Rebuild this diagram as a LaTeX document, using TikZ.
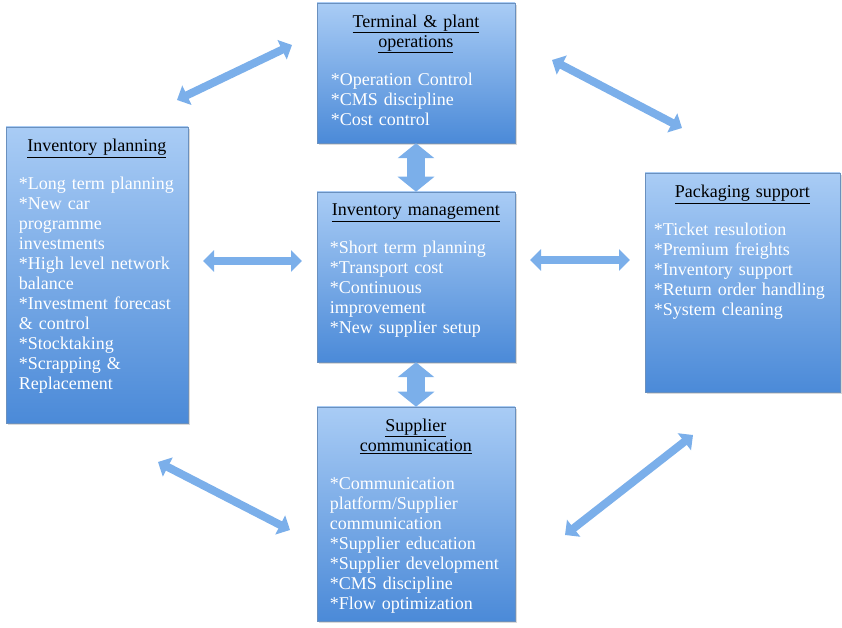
\documentclass[tikz,border=0pt]{standalone}
\usepackage{fontspec}
\setmainfont{Liberation Serif}
\usetikzlibrary{arrows.meta, positioning, shadows}
\definecolor{boxtop}{HTML}{A9CCF5}
\definecolor{boxbot}{HTML}{4B8AD8}
\definecolor{boxline}{HTML}{6A90BE}
\definecolor{linkblue}{HTML}{7BAFEA}
\hyphenpenalty=10000
\newcommand{\boxtitle}[1]{{\centering\leavevmode\color{black}#1\par}\vspace{18pt}}

\begin{document}
\begin{tikzpicture}[x=1pt, y=1pt, every node/.style={font=\fontsize{18}{20}\selectfont},
  area/.style={draw=boxline, line width=0.5pt, rectangle, top color=boxtop, bottom color=boxbot,
    drop shadow={opacity=0.3, shadow xshift=1.5pt, shadow yshift=-2pt}},
  txt/.style={inner sep=0pt, align=left, text=white},
  link/.style={linkblue, line width=8pt, {Triangle[length=11pt, width=21pt]}-{Triangle[length=11pt, width=21pt]}},
  vlink/.style={linkblue, line width=18pt, {Triangle[length=15pt, width=36pt]}-{Triangle[length=15pt, width=36pt]}}]
  \useasboundingbox (0,0) rectangle (842,628);

  % the five areas
  \node[area, minimum width=198pt, minimum height=140pt] (term) at (416,555) {};
  \node[area, minimum width=182pt, minimum height=296pt] (plan) at (97,353) {};
  \node[area, minimum width=198pt, minimum height=170pt] (mgmt) at (416,351) {};
  \node[area, minimum width=195pt, minimum height=219pt] (pack) at (742.5,345.5) {};
  \node[area, minimum width=198pt, minimum height=214pt] (supp) at (416,114) {};

  % texts
  \node[txt, text width=170pt, below right=12pt and 14pt of term.north west] (termtxt) {\boxtitle{\underline{Terminal \& plant}\\\underline{operations}}
    *Operation Control\\{}*CMS discipline\\{}*Cost control};
  \node[txt, text width=156pt, below right=12pt and 13pt of plan.north west] (plantxt) {\boxtitle{\underline{Inventory planning}}
    *Long term planning\\{}*New car\\programme\\investments\\{}*High level network\\balance\\{}*Investment forecast\\\& control\\{}*Stocktaking\\{}*Scrapping \&\\Replacement};
  \node[txt, text width=172pt, below right=12pt and 13pt of mgmt.north west] (mgmttxt) {\boxtitle{\underline{Inventory management}}
    *Short term planning\\{}*Transport cost\\{}*Continuous\\improvement\\{}*New supplier setup};
  \node[txt, text width=177pt, below right=12pt and 9pt of pack.north west] (packtxt) {\boxtitle{\underline{Packaging support}}
    *Ticket resulotion\\{}*Premium freights\\{}*Inventory support\\{}*Return order handling\\{}*System cleaning};
  \node[txt, text width=172pt, below right=12pt and 13pt of supp.north west] (supptxt) {\boxtitle{\underline{Supplier}\\\underline{communication}}
    *Communication\\platform/Supplier\\communication\\{}*Supplier education\\{}*Supplier development\\{}*CMS discipline\\{}*Flow optimization};

  % free arrow ends
  \coordinate (tl1) at (177,528); \coordinate (tl2) at (292,583);
  \coordinate (tr1) at (552,568); \coordinate (tr2) at (682,500);
  \coordinate (bl1) at (158,166); \coordinate (bl2) at (290,98);
  \coordinate (br1) at (565,93);  \coordinate (br2) at (693,193);
  \coordinate (ml1) at (203,367); \coordinate (ml2) at (302,367);
  \coordinate (mr1) at (530,368); \coordinate (mr2) at (630,368);

  % connectors
  \draw[link] (tl1) -- (tl2);
  \draw[link] (tr1) -- (tr2);
  \draw[link] (bl1) -- (bl2);
  \draw[link] (br1) -- (br2);
  \draw[link] (ml1) -- (ml2);
  \draw[link] (mr1) -- (mr2);
  \draw[vlink] (term.south) -- (mgmt.north);
  \draw[vlink] (mgmt.south) -- (supp.north);
\end{tikzpicture}
\end{document}
